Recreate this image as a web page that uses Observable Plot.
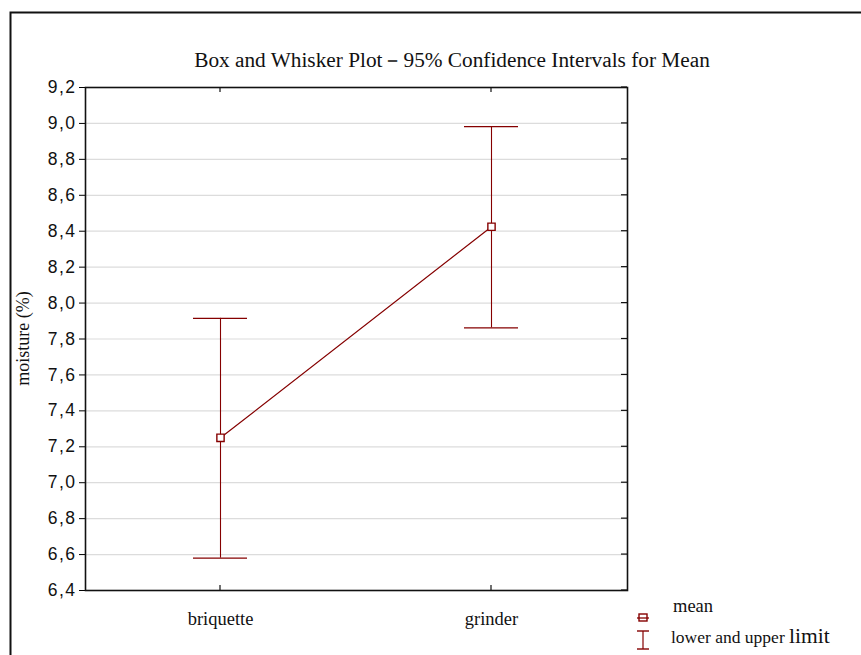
<!DOCTYPE html>
<html>
<head>
<meta charset="utf-8">
<script src="https://cdn.jsdelivr.net/npm/d3@7"></script>
<script src="https://cdn.jsdelivr.net/npm/@observablehq/plot@0.6"></script>
<style>
  html, body { margin: 0; padding: 0; background: #fff; }
  #chart svg { display: block; }
</style>
</head>
<body>
<div id="chart"></div>
<script>
// ---- data ----
const categories = ["briquette", "grinder"];
const means = [7.25, 8.425];
const lowerLimits = [6.58, 7.862];
const upperLimits = [7.915, 8.982];
const yTicks = [6.4, 6.6, 6.8, 7.0, 7.2, 7.4, 7.6, 7.8, 8.0, 8.2, 8.4, 8.6, 8.8, 9.0, 9.2];
const titleText = "Box and Whisker Plot－95% Confidence Intervals for Mean";
const yLabel = "moisture (%)";
const legendMean = "mean";
const legendLimits = "lower and upper ";
const legendLimitsBig = "limit";

const rows = categories.map((c, i) => ({type: c, mean: means[i], lower: lowerLimits[i], upper: upperLimits[i]}));
const red = "#850000";
const ink = "#111";
const serif = "'Liberation Serif', 'Times New Roman', serif";
const sans = "'Liberation Sans', Arial, sans-serif";
const fmt = v => v.toFixed(1).replace(".", ",");

const plot = Plot.plot({
  width: 861,
  height: 655,
  marginLeft: 85,
  marginRight: 234,
  marginTop: 87,
  marginBottom: 65,
  style: {background: "#fff", overflow: "visible"},
  x: {type: "band", domain: categories, paddingInner: 0.8, paddingOuter: 0.4, label: null},
  y: {domain: [6.4, 9.2], label: null},
  marks: [
    Plot.gridY(yTicks.slice(1, -1), {stroke: "#dcdcdc", strokeOpacity: 1, strokeWidth: 1.2}),
    Plot.ruleX(rows, {x: "type", y1: "lower", y2: "upper", stroke: red, strokeWidth: 1.1}),
    Plot.tickY(rows, {x: "type", y: "lower", stroke: red, strokeWidth: 1.4}),
    Plot.tickY(rows, {x: "type", y: "upper", stroke: red, strokeWidth: 1.4}),
    Plot.line(rows, {x: "type", y: "mean", stroke: red, strokeWidth: 1.2}),
    Plot.dot(rows, {x: "type", y: "mean", symbol: "square", r: 4.1, fill: "#fff", stroke: red, strokeWidth: 1.4}),
    Plot.axisY(yTicks, {anchor: "left", tickFormat: fmt, tickSize: 6, tickPadding: 3, fontSize: 17.5, fontFamily: sans, fill: ink, label: null}),
    Plot.axisX({anchor: "bottom", tickSize: 0, tickPadding: 21, fontSize: 18.5, fontFamily: serif, fill: ink, label: null}),
    Plot.frame({stroke: ink, strokeWidth: 1.6})
  ]
});

document.getElementById("chart").appendChild(plot);

// ---- restyle y tick labels ----
const svgSel = d3.select(plot);
const tickTexts = new Set(yTicks.map(fmt));
svgSel.selectAll("text").filter(function() {
  return tickTexts.has(this.textContent.trim());
}).each(function() {
  this.style.setProperty("font-size", "17.5px", "important");
  this.style.setProperty("font-family", sans, "important");
  this.style.setProperty("letter-spacing", "1.5px");
});

const xs = plot.scale("x");
const ys = plot.scale("y");
const bw = xs.bandwidth;
const pLeft = 85, pRight = 861 - 234, pTop = 87, pBottom = 655 - 65;

const deco = svgSel.append("g").attr("stroke", ink).attr("stroke-width", 1.2);
yTicks.forEach(v => {
  const y = ys.apply(v);
  deco.append("line").attr("x1", pRight - 6).attr("x2", pRight).attr("y1", y).attr("y2", y);
});
categories.forEach(c => {
  const x = xs.apply(c) + bw / 2;
  deco.append("line").attr("x1", x).attr("x2", x).attr("y1", pTop).attr("y2", pTop + 5);
  deco.append("line").attr("x1", x).attr("x2", x).attr("y1", pBottom - 5).attr("y2", pBottom);
});

svgSel.append("path").attr("d", "M10.5,655 V12.5 H861").attr("fill", "none").attr("stroke", ink).attr("stroke-width", 2);

svgSel.append("text")
  .attr("x", 452).attr("y", 67)
  .attr("text-anchor", "middle")
  .attr("font-family", serif)
  .attr("font-size", 21.3).attr("fill", ink)
  .text(titleText);

svgSel.append("text")
  .attr("transform", `translate(29,${(pTop + pBottom) / 2}) rotate(-90)`)
  .attr("text-anchor", "middle")
  .attr("font-family", serif)
  .attr("font-size", 18).attr("fill", ink)
  .text(yLabel);

const lg = svgSel.append("g").attr("text-anchor", "start");
const lx = 643;
lg.append("line").attr("x1", lx - 6).attr("x2", lx + 6).attr("y1", 618).attr("y2", 618).attr("stroke", red).attr("stroke-width", 1.3);
lg.append("rect").attr("x", lx - 4).attr("y", 614).attr("width", 8).attr("height", 7).attr("fill", "none").attr("stroke", red).attr("stroke-width", 1.4);
lg.append("line").attr("x1", lx).attr("x2", lx).attr("y1", 631).attr("y2", 649).attr("stroke", red).attr("stroke-width", 1.2);
lg.append("line").attr("x1", lx - 6).attr("x2", lx + 6).attr("y1", 631).attr("y2", 631).attr("stroke", red).attr("stroke-width", 1.4);
lg.append("line").attr("x1", lx - 6).attr("x2", lx + 6).attr("y1", 649).attr("y2", 649).attr("stroke", red).attr("stroke-width", 1.4);
lg.append("text").attr("x", 673).attr("y", 612)
  .attr("font-family", serif).attr("font-size", 18.5).attr("fill", ink)
  .text(legendMean);
const t2 = lg.append("text").attr("x", 671).attr("y", 643)
  .attr("font-family", serif).attr("font-size", 17.5).attr("fill", ink);
t2.append("tspan").text(legendLimits);
t2.append("tspan").attr("font-size", 21.5).text(legendLimitsBig);
</script>
</body>
</html>
